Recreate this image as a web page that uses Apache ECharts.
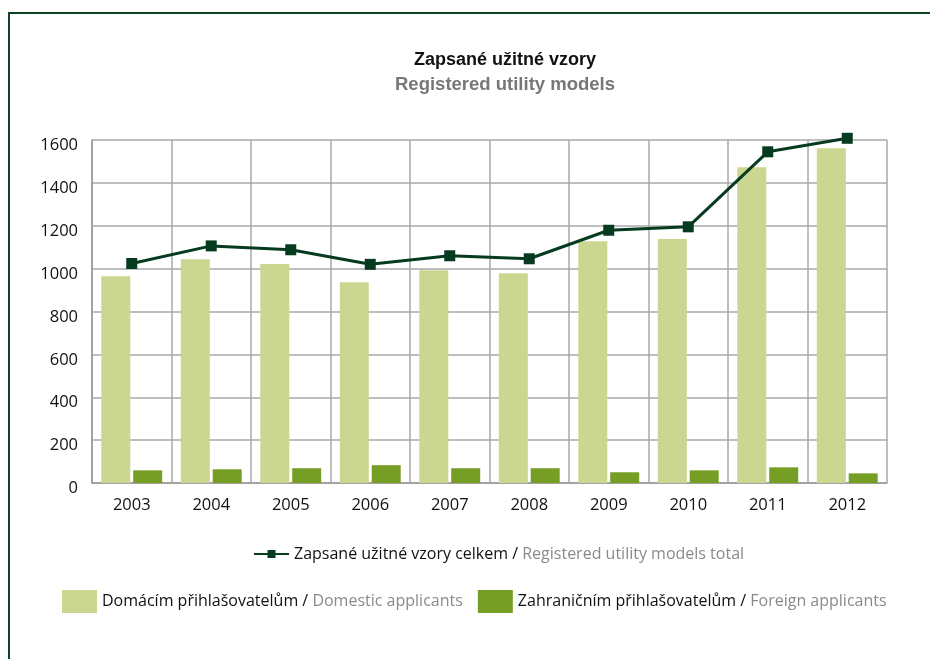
<!DOCTYPE html>
<html>
<head>
<meta charset="utf-8">
<script src="https://cdn.jsdelivr.net/npm/echarts@6/dist/echarts.min.js"></script>
<style>
  html, body { margin: 0; padding: 0; background: #ffffff; }
  #frame {
    position: absolute; left: 8px; top: 12px; width: 922px; height: 647px;
    border-left: 2px solid #0d4424; border-top: 2px solid #0d4424;
  }
  #chart { position: absolute; left: 0; top: 0; width: 930px; height: 659px; }
</style>
</head>
<body>
<div id="frame"></div>
<div id="chart"></div>
<script>
// data
const years = ["2003", "2004", "2005", "2006", "2007", "2008", "2009", "2010", "2011", "2012"];
const domestic = [965, 1044, 1021, 937, 993, 979, 1128, 1138, 1473, 1562];
const foreign = [59, 64, 69, 83, 69, 69, 50, 59, 73, 45];
const total = [1024, 1106, 1088, 1020, 1060, 1046, 1179, 1195, 1545, 1608];
const yTicks = [0, 200, 400, 600, 800, 1000, 1200, 1400, 1600];

const names = {
  "Zapsané užitné vzory celkem": "Registered utility models total",
  "Domácím přihlašovatelům": "Domestic applicants",
  "Zahraničním přihlašovatelům": "Foreign applicants"
};

const txtFont = "'Open Sans', 'Noto Sans', sans-serif";
const legendText = {
  fontSize: 16,
  fontFamily: txtFont,
  rich: {
    a: { color: "#111111", fontSize: 16, fontFamily: txtFont },
    b: { color: "#8a8a8a", fontSize: 16, fontFamily: txtFont }
  }
};
const fmt = function (n) { return "{a|" + n + " / }{b|" + names[n] + "}"; };

const chart = echarts.init(document.getElementById("chart"));
chart.setOption({
  animation: false,
  title: {
    text: "Zapsané užitné vzory",
    subtext: "Registered utility models",
    left: 500,
    textAlign: "center",
    top: 46,
    itemGap: 6,
    textStyle: {
      fontFamily: "'Liberation Sans Narrow', 'Liberation Sans', sans-serif",
      fontWeight: "bold", fontSize: 18, color: "#111111"
    },
    subtextStyle: {
      fontFamily: "'Liberation Sans Narrow', 'Liberation Sans', sans-serif",
      fontWeight: "bold", fontSize: 18.5, color: "#777777"
    }
  },
  legend: [
    {
      data: ["Zapsané užitné vzory celkem"],
      left: 248,
      top: 541,
      itemWidth: 35,
      itemHeight: 10,
      itemGap: 0,
      textStyle: legendText,
      formatter: fmt
    },
    {
      data: ["Domácím přihlašovatelům", "Zahraničním přihlašovatelům"],
      left: 57,
      top: 585,
      icon: "rect",
      itemWidth: 35,
      itemHeight: 23,
      itemGap: 15,
      textStyle: legendText,
      formatter: fmt
    }
  ],
  grid: { left: 92, right: 43, top: 140, bottom: 176 },
  xAxis: {
    type: "category",
    data: years,
    axisLine: { lineStyle: { color: "#9a9a9a", width: 1.5 } },
    axisTick: { show: false },
    axisLabel: { color: "#111111", fontSize: 16.5, fontFamily: txtFont, margin: 14 },
    splitLine: { show: true, lineStyle: { color: "#a8a8a8", width: 1.5 } }
  },
  yAxis: {
    type: "value",
    min: yTicks[0],
    max: yTicks[yTicks.length - 1],
    interval: 200,
    axisLine: { show: true, lineStyle: { color: "#9a9a9a", width: 1.5 } },
    axisTick: { show: false },
    axisLabel: {
      color: "#111111", fontSize: 16.5, fontFamily: txtFont, margin: 14,
      verticalAlign: "top", padding: [-3, 0, 0, 0],
      formatter: function (v) { return String(v); }
    },
    splitLine: { lineStyle: { color: "#a8a8a8", width: 1.5 } }
  },
  series: [
    {
      name: "Domácím přihlašovatelům",
      type: "bar",
      data: domestic,
      barWidth: 29,
      barGap: "10%",
      itemStyle: { color: "#cbd690" }
    },
    {
      name: "Zahraničním přihlašovatelům",
      type: "bar",
      data: foreign,
      barWidth: 29,
      barGap: "10%",
      itemStyle: { color: "#769d24" }
    },
    {
      name: "Zapsané užitné vzory celkem",
      type: "line",
      data: total,
      clip: false,
      symbol: "rect",
      symbolSize: 11,
      lineStyle: { color: "#063b20", width: 3 },
      itemStyle: { color: "#063b20" },
      z: 5
    }
  ]
});
</script>
</body>
</html>
